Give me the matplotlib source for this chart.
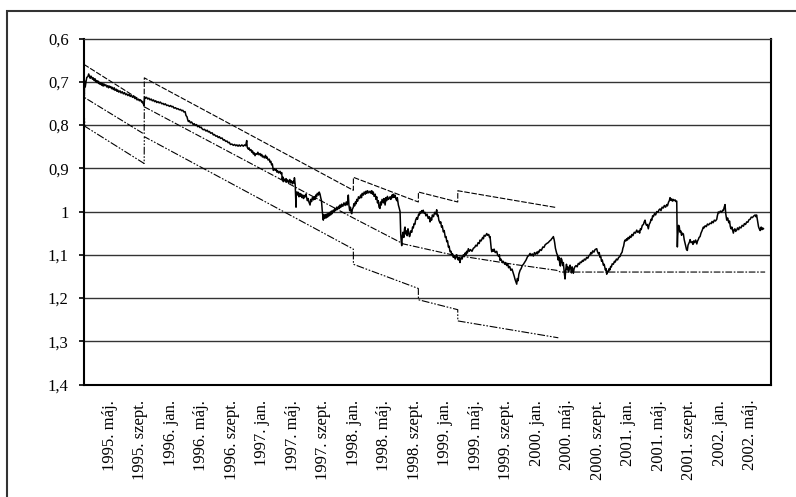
import matplotlib
matplotlib.use("Agg")
import matplotlib.pyplot as plt
from matplotlib.patches import Rectangle

# x unit: months (label "1995. máj." at 4, then every 4 months)
tick_pos = [4 + 4 * k for k in range(22)]
tick_labels = ["1995. máj.", "1995. szept.", "1996. jan.", "1996. máj.", "1996. szept.",
               "1997. jan.", "1997. máj.", "1997. szept.", "1998. jan.", "1998. máj.",
               "1998. szept.", "1999. jan.", "1999. máj.", "1999. szept.", "2000. jan.",
               "2000. máj.", "2000. szept.", "2001. jan.", "2001. máj.", "2001. szept.",
               "2002. jan.", "2002. máj."]
y_ticks = [0.6, 0.7, 0.8, 0.9, 1.0, 1.1, 1.2, 1.3, 1.4]
y_tick_labels = ["0,6", "0,7", "0,8", "0,9", "1", "1,1", "1,2", "1,3", "1,4"]

# exchange rate: (month, value)
rate_points = [
    (0.59, 0.715), (0.63, 0.728), (0.66, 0.698), (0.75, 0.712), (0.85, 0.700), (0.95, 0.690),
    (1.1, 0.688), (1.2, 0.682), (1.28, 0.686), (1.4, 0.692), (1.5, 0.687), (1.6, 0.690),
    (1.7, 0.694), (1.8, 0.691), (1.9, 0.697), (2.03, 0.693), (2.1, 0.700), (2.2, 0.697),
    (2.3, 0.702), (2.4, 0.698), (2.5, 0.704), (2.6, 0.701), (2.69, 0.706), (2.8, 0.702),
    (2.9, 0.708), (3.0, 0.704), (3.1, 0.710), (3.2, 0.705), (3.3, 0.709), (3.45, 0.707),
    (3.57, 0.712), (3.7, 0.709), (3.8, 0.714), (3.9, 0.710), (4.0, 0.713), (4.1, 0.711),
    (4.2, 0.716), (4.3, 0.713), (4.43, 0.718), (4.55, 0.714), (4.65, 0.720), (4.8, 0.717),
    (4.9, 0.722), (5.0, 0.719), (5.15, 0.724), (5.31, 0.721), (5.45, 0.726), (5.6, 0.723),
    (5.75, 0.728), (5.9, 0.725), (6.05, 0.730), (6.19, 0.728), (6.35, 0.732), (6.5, 0.729),
    (6.65, 0.734), (6.8, 0.731), (6.95, 0.736), (7.1, 0.734), (7.28, 0.739), (7.4, 0.737),
    (7.55, 0.742), (7.7, 0.740), (7.85, 0.744), (8.0, 0.742), (8.16, 0.747), (8.3, 0.749),
    (8.4, 0.752), (8.46, 0.756),
    (8.55, 0.735), (8.65, 0.738), (8.8, 0.736), (8.95, 0.740), (9.1, 0.738), (9.25, 0.742),
    (9.4, 0.740), (9.55, 0.744), (9.7, 0.742), (9.85, 0.746), (10.0, 0.744), (10.13, 0.748),
    (10.3, 0.746), (10.45, 0.749), (10.6, 0.747), (10.8, 0.751), (10.95, 0.750), (11.1, 0.753),
    (11.25, 0.751), (11.44, 0.755), (11.6, 0.754), (11.8, 0.757), (11.95, 0.755), (12.1, 0.758),
    (12.25, 0.757), (12.4, 0.761), (12.6, 0.760), (12.75, 0.763), (12.9, 0.762), (13.1, 0.765),
    (13.25, 0.764), (13.4, 0.767), (13.55, 0.766), (13.7, 0.770), (13.85, 0.769), (13.97, 0.778),
    (14.1, 0.781), (14.2, 0.788), (14.28, 0.792), (14.4, 0.790), (14.55, 0.795), (14.7, 0.793),
    (14.93, 0.799), (15.05, 0.797), (15.2, 0.801), (15.35, 0.799), (15.5, 0.804), (15.65, 0.802),
    (15.8, 0.806), (15.95, 0.805), (16.1, 0.809), (16.24, 0.811), (16.4, 0.810), (16.6, 0.814),
    (16.75, 0.812), (16.9, 0.816), (17.05, 0.815), (17.2, 0.819), (17.4, 0.818), (17.56, 0.823),
    (17.7, 0.822), (17.9, 0.826), (18.05, 0.825), (18.2, 0.829), (18.35, 0.827), (18.5, 0.831),
    (18.7, 0.830), (18.87, 0.835), (19.0, 0.834), (19.2, 0.838), (19.35, 0.837), (19.5, 0.841),
    (19.65, 0.840), (19.8, 0.845), (20.0, 0.844), (20.18, 0.847), (20.35, 0.845), (20.5, 0.848),
    (20.65, 0.846), (20.8, 0.849), (20.95, 0.846), (21.1, 0.849), (21.3, 0.846), (21.49, 0.849),
    (21.65, 0.846), (21.8, 0.848), (21.94, 0.836), (22.0, 0.851),
    (22.15, 0.856), (22.25, 0.853), (22.37, 0.859), (22.5, 0.857), (22.6, 0.863), (22.7, 0.860),
    (22.81, 0.867), (22.9, 0.864), (23.03, 0.871), (23.15, 0.866), (23.3, 0.868), (23.4, 0.863),
    (23.55, 0.869), (23.69, 0.866), (23.8, 0.871), (23.9, 0.868), (24.0, 0.874), (24.12, 0.872),
    (24.25, 0.876), (24.4, 0.870), (24.5, 0.877), (24.6, 0.874), (24.75, 0.881), (24.9, 0.879),
    (25.0, 0.886), (25.1, 0.884), (25.2, 0.892), (25.3, 0.890), (25.43, 0.905), (25.55, 0.901),
    (25.7, 0.905), (25.8, 0.902), (25.9, 0.909), (26.0, 0.906), (26.15, 0.911), (26.31, 0.907),
    (26.45, 0.913), (26.53, 0.910), (26.6, 0.926), (26.67, 0.920), (26.74, 0.931), (26.85, 0.925),
    (27.0, 0.930), (27.1, 0.924), (27.2, 0.932), (27.3, 0.927), (27.45, 0.933), (27.6, 0.926),
    (27.7, 0.934), (27.8, 0.929), (27.95, 0.936), (28.06, 0.930), (28.15, 0.934), (28.2, 0.922),
    (28.3, 0.938), (28.35, 0.960), (28.41, 0.990),
    (28.45, 0.955), (28.55, 0.962), (28.65, 0.955), (28.71, 0.960), (28.8, 0.966), (28.9, 0.958),
    (29.0, 0.965), (29.1, 0.960), (29.2, 0.968), (29.3, 0.962), (29.4, 0.970), (29.5, 0.963),
    (29.6, 0.966), (29.7, 0.960), (29.81, 0.968), (29.9, 0.975), (30.0, 0.970), (30.1, 0.978),
    (30.25, 0.985), (30.35, 0.972), (30.45, 0.977), (30.55, 0.968), (30.7, 0.973), (30.8, 0.966),
    (30.9, 0.972), (31.0, 0.962), (31.1, 0.966), (31.2, 0.958), (31.35, 0.962), (31.45, 0.955),
    (31.56, 0.960), (31.65, 0.968), (31.75, 0.975), (31.85, 0.998), (31.92, 1.010), (31.99, 1.020),
    (32.05, 1.008), (32.15, 1.016), (32.25, 1.007), (32.35, 1.015), (32.45, 1.006), (32.55, 1.013),
    (32.65, 1.004), (32.75, 1.010), (32.87, 1.002), (32.95, 1.008), (33.05, 0.999), (33.15, 1.005),
    (33.3, 0.997), (33.4, 1.001), (33.5, 0.993), (33.6, 0.998), (33.75, 0.990), (33.85, 0.995),
    (34.0, 0.988), (34.1, 0.993), (34.18, 0.985), (34.3, 0.990), (34.4, 0.983), (34.55, 0.988),
    (34.7, 0.980), (34.85, 0.986), (35.0, 0.978), (35.1, 0.985), (35.2, 0.975), (35.27, 0.962),
    (35.35, 0.985), (35.45, 0.998), (35.55, 0.990), (35.65, 1.003), (35.72, 1.005), (35.8, 0.995),
    (35.93, 0.990), (36.0, 0.982), (36.1, 0.987), (36.2, 0.978), (36.3, 0.982), (36.38, 0.972),
    (36.5, 0.976), (36.6, 0.966), (36.75, 0.970), (36.9, 0.962), (37.0, 0.968), (37.1, 0.958),
    (37.24, 0.962), (37.35, 0.955), (37.5, 0.960), (37.6, 0.953), (37.7, 0.958), (37.8, 0.952),
    (37.95, 0.957), (38.12, 0.953), (38.25, 0.958), (38.35, 0.952), (38.45, 0.960), (38.55, 0.955),
    (38.65, 0.965), (38.8, 0.960), (38.9, 0.972), (39.0, 0.966), (39.1, 0.980), (39.2, 0.975),
    (39.3, 0.990), (39.43, 0.993), (39.5, 0.978), (39.6, 0.985), (39.7, 0.972), (39.87, 0.980),
    (39.95, 0.970), (40.1, 0.985), (40.2, 0.968), (40.3, 0.975), (40.4, 0.965), (40.55, 0.972),
    (40.75, 0.966), (40.85, 0.972), (41.0, 0.962), (41.1, 0.968), (41.18, 0.960), (41.3, 0.967),
    (41.4, 0.962), (41.5, 0.970), (41.63, 0.975), (41.7, 0.968), (41.84, 0.985), (41.95, 0.992),
    (42.06, 1.000),
    (42.15, 1.052), (42.22, 1.070), (42.28, 1.079), (42.35, 1.058), (42.45, 1.048), (42.55, 1.060),
    (42.65, 1.040), (42.71, 1.036), (42.8, 1.052), (42.9, 1.045), (43.0, 1.056), (43.1, 1.040),
    (43.2, 1.050), (43.3, 1.058), (43.37, 1.055), (43.45, 1.045), (43.6, 1.048), (43.7, 1.036),
    (43.8, 1.038), (43.9, 1.028), (44.0, 1.030), (44.1, 1.020), (44.25, 1.014), (44.35, 1.018),
    (44.5, 1.006), (44.6, 1.008), (44.68, 1.001), (44.8, 1.004), (44.9, 0.998), (45.0, 1.003),
    (45.1, 0.997), (45.2, 1.004), (45.34, 1.002), (45.45, 1.010), (45.6, 1.006), (45.75, 1.016),
    (45.9, 1.012), (46.0, 1.024), (46.1, 1.015), (46.2, 1.020), (46.3, 1.008), (46.45, 1.012),
    (46.6, 1.002), (46.75, 1.006), (46.87, 0.996), (46.95, 1.010), (47.05, 1.008), (47.15, 1.020),
    (47.31, 1.027), (47.4, 1.024), (47.5, 1.036), (47.6, 1.033), (47.74, 1.047), (47.85, 1.044),
    (48.0, 1.060), (48.1, 1.058), (48.19, 1.070), (48.3, 1.068), (48.4, 1.082), (48.5, 1.080),
    (48.62, 1.093), (48.75, 1.092), (48.85, 1.100), (48.95, 1.098), (49.05, 1.106), (49.15, 1.102),
    (49.3, 1.110), (49.4, 1.104), (49.5, 1.100), (49.6, 1.108), (49.7, 1.112), (49.8, 1.106),
    (49.93, 1.118), (50.0, 1.110), (50.1, 1.106), (50.2, 1.110), (50.37, 1.100), (50.5, 1.104),
    (50.6, 1.096), (50.7, 1.100), (50.8, 1.092), (50.9, 1.096), (51.02, 1.086), (51.15, 1.092),
    (51.3, 1.088), (51.5, 1.092), (51.68, 1.085), (51.85, 1.083), (52.0, 1.078), (52.15, 1.080),
    (52.3, 1.072), (52.45, 1.074), (52.56, 1.066), (52.7, 1.068), (52.9, 1.060), (53.0, 1.063),
    (53.1, 1.055), (53.25, 1.057), (53.44, 1.051), (53.55, 1.055), (53.7, 1.053), (53.8, 1.060),
    (53.87, 1.058), (53.95, 1.072), (54.02, 1.085), (54.09, 1.093), (54.2, 1.088), (54.3, 1.092),
    (54.4, 1.087), (54.55, 1.095), (54.75, 1.092), (54.85, 1.100), (55.0, 1.104), (55.1, 1.100),
    (55.18, 1.113), (55.3, 1.110), (55.5, 1.118), (55.6, 1.115), (55.8, 1.122), (55.9, 1.118),
    (56.06, 1.125), (56.2, 1.122), (56.3, 1.130), (56.45, 1.127), (56.6, 1.136), (56.75, 1.133),
    (56.93, 1.143), (57.05, 1.150), (57.15, 1.157), (57.25, 1.162), (57.37, 1.168), (57.45, 1.155),
    (57.55, 1.160), (57.65, 1.145), (57.81, 1.136), (57.95, 1.132), (58.1, 1.125), (58.25, 1.122),
    (58.46, 1.116), (58.6, 1.112), (58.8, 1.104), (58.95, 1.102), (59.12, 1.097), (59.25, 1.102),
    (59.4, 1.098), (59.55, 1.103), (59.7, 1.095), (59.85, 1.099), (60.0, 1.094), (60.1, 1.098),
    (60.2, 1.092), (60.3, 1.094), (60.43, 1.088), (60.6, 1.090), (60.8, 1.082), (60.95, 1.083),
    (61.1, 1.077), (61.31, 1.074), (61.5, 1.072), (61.7, 1.068), (61.85, 1.066), (62.0, 1.062),
    (62.1, 1.061), (62.18, 1.058), (62.28, 1.065), (62.35, 1.072), (62.45, 1.085), (62.62, 1.097),
    (62.7, 1.100), (62.8, 1.112), (62.9, 1.105), (63.0, 1.118), (63.1, 1.126), (63.2, 1.108),
    (63.3, 1.112), (63.4, 1.125), (63.49, 1.118), (63.6, 1.140), (63.71, 1.156), (63.8, 1.135),
    (63.9, 1.122), (64.0, 1.135), (64.1, 1.128), (64.2, 1.140), (64.37, 1.124), (64.45, 1.130),
    (64.55, 1.142), (64.65, 1.128), (64.8, 1.143), (64.9, 1.132), (65.0, 1.128), (65.15, 1.125),
    (65.3, 1.128), (65.45, 1.120), (65.6, 1.122), (65.7, 1.117), (65.85, 1.118), (66.0, 1.113),
    (66.11, 1.115), (66.25, 1.110), (66.4, 1.112), (66.55, 1.106), (66.7, 1.108), (66.85, 1.102),
    (66.99, 1.100), (67.1, 1.095), (67.2, 1.098), (67.35, 1.091), (67.5, 1.094), (67.65, 1.088),
    (67.87, 1.086), (67.95, 1.092), (68.1, 1.098), (68.2, 1.095), (68.3, 1.106), (68.4, 1.104),
    (68.5, 1.115), (68.6, 1.112), (68.74, 1.124), (68.85, 1.122), (69.0, 1.135), (69.1, 1.132),
    (69.18, 1.145), (69.28, 1.138), (69.4, 1.140), (69.5, 1.132), (69.6, 1.135), (69.7, 1.127),
    (69.8, 1.128), (69.9, 1.121), (70.05, 1.122), (70.2, 1.115), (70.3, 1.117), (70.45, 1.110),
    (70.6, 1.112), (70.75, 1.106), (70.93, 1.104), (71.05, 1.098), (71.2, 1.094), (71.3, 1.085),
    (71.4, 1.080), (71.5, 1.070), (71.59, 1.066), (71.7, 1.068), (71.8, 1.063), (71.9, 1.066),
    (72.0, 1.060), (72.1, 1.063), (72.24, 1.057), (72.35, 1.060), (72.5, 1.053), (72.6, 1.056),
    (72.8, 1.048), (72.95, 1.050), (73.12, 1.043), (73.25, 1.048), (73.4, 1.045), (73.5, 1.050),
    (73.6, 1.040), (73.7, 1.042), (73.85, 1.032), (74.0, 1.030), (74.1, 1.024), (74.21, 1.020),
    (74.3, 1.028), (74.4, 1.032), (74.5, 1.030), (74.64, 1.040), (74.75, 1.030), (74.9, 1.025),
    (75.0, 1.018), (75.1, 1.020), (75.2, 1.010), (75.3, 1.012), (75.45, 1.005), (75.6, 1.008),
    (75.75, 1.000), (75.9, 1.002), (76.05, 0.996), (76.18, 0.994), (76.3, 0.998), (76.45, 0.990),
    (76.6, 0.992), (76.75, 0.986), (76.9, 0.990), (77.06, 0.984), (77.15, 0.987), (77.3, 0.978),
    (77.4, 0.975), (77.49, 0.968), (77.6, 0.974), (77.7, 0.971), (77.8, 0.976), (77.9, 0.972),
    (78.0, 0.975), (78.15, 0.973), (78.25, 0.977), (78.37, 0.976), (78.42, 1.040), (78.45, 1.082),
    (78.5, 1.055), (78.55, 1.045), (78.62, 1.032), (78.71, 1.036), (78.8, 1.048), (78.9, 1.045),
    (79.0, 1.055), (79.1, 1.050), (79.24, 1.052), (79.35, 1.065), (79.45, 1.072), (79.55, 1.080),
    (79.65, 1.088), (79.76, 1.090), (79.85, 1.078), (79.95, 1.074), (80.05, 1.070), (80.12, 1.065),
    (80.25, 1.072), (80.4, 1.070), (80.5, 1.076), (80.6, 1.068), (80.7, 1.072), (80.85, 1.066),
    (81.0, 1.075), (81.1, 1.068), (81.2, 1.065), (81.3, 1.060), (81.43, 1.058), (81.55, 1.050),
    (81.7, 1.044), (81.86, 1.036), (81.95, 1.038), (82.1, 1.033), (82.25, 1.035), (82.4, 1.029),
    (82.55, 1.031), (82.74, 1.027), (82.9, 1.028), (83.0, 1.023), (83.15, 1.026), (83.3, 1.020),
    (83.45, 1.022), (83.62, 1.018), (83.7, 1.010), (83.83, 1.001), (83.95, 1.003), (84.1, 0.999),
    (84.25, 1.002), (84.4, 0.997), (84.49, 0.998), (84.6, 0.990), (84.71, 0.984), (84.8, 1.005),
    (84.93, 1.020), (85.05, 1.015), (85.2, 1.026), (85.3, 1.022), (85.4, 1.035), (85.5, 1.040),
    (85.6, 1.036), (85.8, 1.050), (85.9, 1.042), (86.0, 1.040), (86.1, 1.046), (86.24, 1.043),
    (86.35, 1.038), (86.5, 1.042), (86.6, 1.036), (86.8, 1.038), (86.95, 1.032), (87.12, 1.034),
    (87.25, 1.028), (87.4, 1.030), (87.55, 1.024), (87.7, 1.025), (87.85, 1.019), (88.0, 1.018),
    (88.15, 1.013), (88.3, 1.014), (88.5, 1.010), (88.66, 1.008), (88.75, 1.012), (88.85, 1.008),
    (89.0, 1.025), (89.1, 1.035), (89.2, 1.040), (89.32, 1.044), (89.45, 1.036), (89.55, 1.042),
    (89.65, 1.038), (89.75, 1.040),
]
rate_t = [p[0] for p in rate_points]
rate_v = [p[1] for p in rate_points]

# band edges and central parity
upper_t = [0.59, 8.48, 8.50, 35.93, 35.94, 44.46, 44.47, 49.63, 49.64, 62.62]
upper_v = [0.660, 0.748, 0.691, 0.951, 0.921, 0.978, 0.955, 0.978, 0.952, 0.991]
central_t = [0.59, 0.70, 8.48, 8.50, 35.93, 42.5, 48.6, 56.9, 62.6, 63.1, 89.97]
central_v = [0.717, 0.737, 0.821, 0.758, 1.015, 1.075, 1.099, 1.122, 1.136, 1.140, 1.140]
lower_t = [0.59, 0.70, 8.48, 8.50, 35.93, 35.94, 44.46, 44.47, 49.63, 49.64, 62.83]
lower_v = [0.762, 0.803, 0.889, 0.827, 1.087, 1.122, 1.178, 1.204, 1.227, 1.253, 1.292]

plt.rcParams['font.family'] = ['Liberation Serif', 'DejaVu Serif']
plt.rcParams['font.size'] = 12

fig = plt.figure(figsize=(7.96, 4.97), dpi=100)
ax = fig.add_axes([83.5 / 796, 1 - 384.5 / 497, (770.7 - 83.5) / 796, (384.5 - 38.5) / 497])

for yv in y_ticks[1:-1]:
    ax.axhline(yv, color='#333333', lw=1.0, zorder=1)

ax.plot(upper_t, upper_v, color='black', lw=0.8, linestyle=(0, (5, 1.5)), zorder=2)
ax.plot(central_t, central_v, color='black', lw=0.8, linestyle=(0, (6, 1.5, 1.5, 1.5)), zorder=2)
ax.plot(lower_t, lower_v, color='black', lw=0.8,
        linestyle=(0, (7, 1.5, 1.5, 1.5, 1.5, 1.5)), zorder=2)
ax.plot(rate_t, rate_v, color='black', lw=1.1, zorder=3)

ax.set_xlim(0.52, 90.70)
ax.set_ylim(1.4, 0.6)
ax.set_yticks(y_ticks)
ax.set_yticklabels(y_tick_labels)
ax.set_xticks(tick_pos)
ax.set_xticklabels(tick_labels, rotation=90)
ax.tick_params(axis='x', length=0, pad=11)
ax.tick_params(axis='y', length=3.7, width=1.2, pad=7, direction='out')

for side in ['left', 'bottom', 'right']:
    ax.spines[side].set_color('black')
    ax.spines[side].set_linewidth(1.5)
ax.spines['top'].set_color('#333333')
ax.spines['top'].set_linewidth(1.0)

frame = Rectangle((7.3 / 796, -0.2), 2.0, 1.2 - 10.7 / 497, transform=fig.transFigure,
                  fill=False, edgecolor='#333333', lw=1.5, clip_on=False)
fig.patches.append(frame)

fig.savefig('out.png', dpi=100)
